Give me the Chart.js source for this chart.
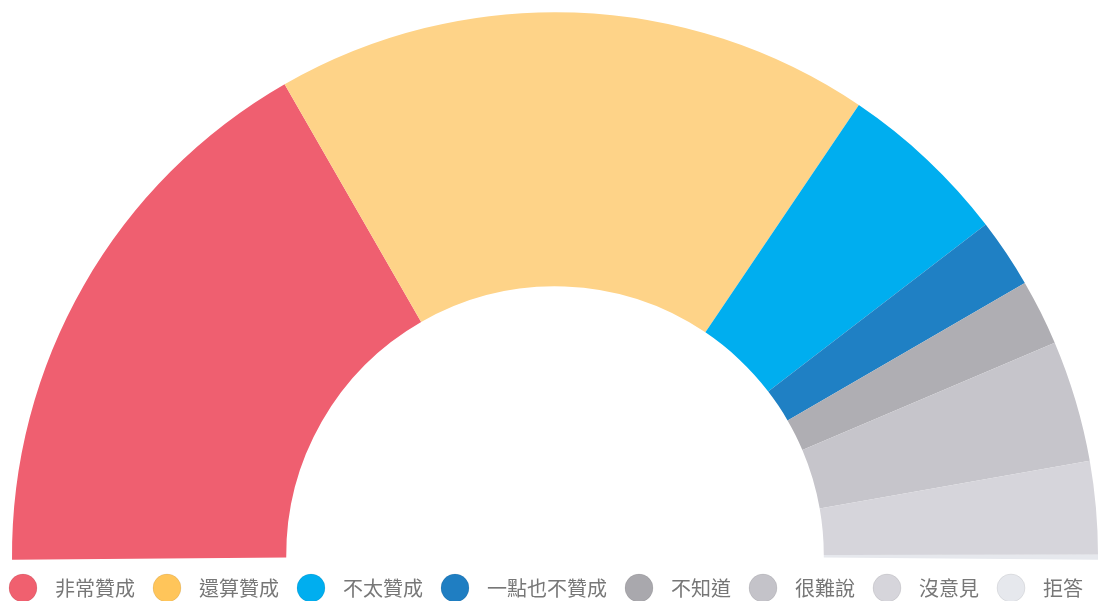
<!DOCTYPE html>
<html>
<head>
<meta charset="utf-8">
<script src="https://cdn.jsdelivr.net/npm/chart.js@4/dist/chart.umd.min.js"></script>
<style>
  html, body { margin: 0; padding: 0; background: #fff; overflow: hidden; }
  #wrap { width: 1110px; height: 601px; position: relative; }
</style>
</head>
<body>
<div id="wrap"><canvas id="chart"></canvas></div>
<script>
'use strict';

// ── Data ────────────────────────────────────────────────────────────────────
const LABELS = ['非常贊成', '還算贊成', '不太贊成', '一點也不贊成', '不知道', '很難說', '沒意見', '拒答'];
const SHARES = [33.5, 35.3, 10.2, 4.1, 3.9, 7.2, 5.5, 0.3];

// slice fills and legend dot fills
const SLICE_COLORS  = ['#ef5f70', '#fed388', '#00aeef', '#1f80c4', '#afaeb3', '#c6c5cb', '#d6d5db', '#e6e8ed'];
const LEGEND_COLORS = ['#f0606f', '#ffc55a', '#00aeef', '#1f7ec2', '#a9a8ad', '#c4c3c9', '#d6d5db', '#e6e8ed'];

const FONT = '"Noto Sans CJK TC", "Noto Sans CJK SC", "Noto Sans", sans-serif';

// ── Legend dots (drawn once, used as point style images) ────────────────────
function makeDot(color) {
  const c = document.createElement('canvas');
  c.width = 30; c.height = 30;
  const g = c.getContext('2d');
  g.beginPath();
  g.arc(15, 15, 14, 0, Math.PI * 2);
  g.fillStyle = color;
  g.fill();
  g.lineWidth = 1;
  g.strokeStyle = 'rgba(0,0,0,0.07)';
  g.stroke();
  return c;
}
const DOTS = LEGEND_COLORS.map(makeDot);

// ── Chart ───────────────────────────────────────────────────────────────────
new Chart(document.getElementById('chart'), {
  type: 'doughnut',
  data: {
    labels: LABELS,
    datasets: [{
      data: SHARES,
      backgroundColor: SLICE_COLORS,
      borderWidth: 0,
      hoverOffset: 0,
    }],
  },
  options: {
    responsive: true,
    maintainAspectRatio: false,
    animation: false,
    // half ring, dipping a hair below the horizontal on both ends
    rotation: -90.5,
    circumference: 181,
    cutout: '49.5%',
    radius: 543,
    layout: { padding: { left: -9, right: 0, top: 4, bottom: -7 } },
    plugins: {
      tooltip: { enabled: false },
      legend: {
        position: 'bottom',
        align: 'start',
        labels: {
          usePointStyle: true,
          pointStyleWidth: 44,
          padding: 10,
          color: '#777',
          font: { family: FONT, size: 20 },
          generateLabels: chart => LABELS.map((text, i) => ({
            text,
            fillStyle: LEGEND_COLORS[i],
            strokeStyle: LEGEND_COLORS[i],
            lineWidth: 0,
            pointStyle: DOTS[i],
            fontColor: '#777',
            hidden: !chart.getDataVisibility(i),
            index: i,
          })),
        },
      },
    },
  },
});
</script>
</body>
</html>
